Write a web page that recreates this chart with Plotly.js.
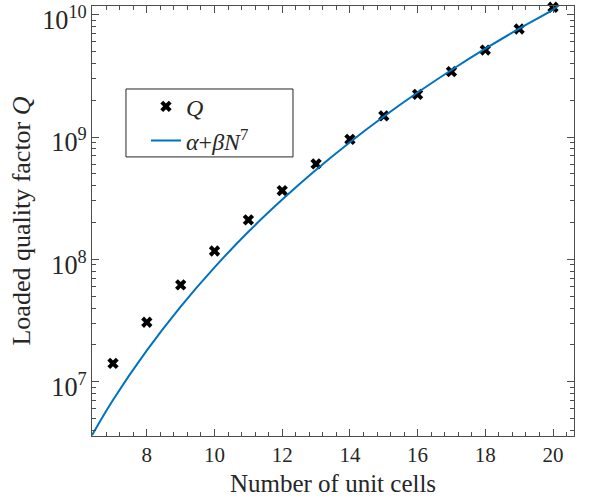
<!DOCTYPE html>
<html>
<head>
<meta charset="utf-8">
<script src="https://cdn.plot.ly/plotly-3.0.1.min.js"></script>
<style>html,body{margin:0;padding:0;background:#fff;}#chart{width:590px;height:504px;}</style>
</head>
<body>
<div id="chart"></div>
<script>
// Measured loaded quality factor vs number of unit cells
const cells = [7, 8, 9, 10, 11, 12, 13, 14, 15, 16, 17, 18, 19, 20];
const qValues = [1.41e7, 3.06e7, 6.18e7, 1.17e8, 2.10e8, 3.65e8, 6.03e8, 9.58e8, 1.49e9, 2.23e9, 3.42e9, 5.14e9, 7.64e9, 1.15e10];

// Fit curve alpha + beta*N^7
const fitN = [6.38, 7, 8, 9, 10, 11, 12, 13, 14, 15, 16, 17, 18, 19, 20, 20.2];
const fitQ = [3.65e6, 7.08e6, 1.80e7, 4.11e7, 8.6e7, 1.68e8, 3.08e8, 5.40e8, 9.07e8, 1.47e9, 2.31e9, 3.53e9, 5.27e9, 7.69e9, 1.10e10, 1.21e10];

const xTicks = [8, 10, 12, 14, 16, 18, 20];

const font = 'Liberation Serif';

const traces = [
  {
    x: cells, y: qValues, type: 'scatter', mode: 'markers', name: '<i>Q</i>',
    marker: {symbol: 'x', size: 10, color: '#000000', line: {width: 0}},
    cliponaxis: false
  },
  {
    x: fitN, y: fitQ, type: 'scatter', mode: 'lines', name: '<i>α</i>+<i>β</i><i>N</i><sup>7</sup>',
    line: {color: '#0072BD', width: 2, shape: 'spline'}
  }
];

const axisCommon = {
  showline: true, linecolor: '#4d4d4d', linewidth: 1, mirror: 'allticks',
  ticks: 'inside', ticklen: 7, tickcolor: '#4d4d4d', tickwidth: 1,
  showgrid: false, zeroline: false, ticklabeloverflow: 'allow',
  tickfont: {family: font, size: 21, color: '#262626'}
};

const layout = {
  width: 590, height: 504,
  margin: {l: 92, r: 16, t: 6, b: 68},
  paper_bgcolor: '#ffffff', plot_bgcolor: '#ffffff',
  font: {family: font, color: '#262626'},
  showlegend: true,
  xaxis: Object.assign({}, axisCommon, {
    range: [6.38, 20.62],
    tickmode: 'array', tickvals: xTicks, ticktext: xTicks.map(String),
    minor: {dtick: 0.4, tick0: 0, ticks: 'inside', ticklen: 4, tickcolor: '#4d4d4d'},
    title: {text: 'Number of unit cells', font: {family: font, size: 25, color: '#262626'}, standoff: 8}
  }),
  yaxis: Object.assign({}, axisCommon, {
    type: 'log', range: [6.556, 10.071], dtick: 1, exponentformat: 'power',
    ticklabelshift: 5,
    minor: {dtick: 'D1', ticks: 'inside', ticklen: 4, tickcolor: '#4d4d4d'},
    title: {text: 'Loaded quality factor <i>Q</i>', font: {family: font, size: 26, color: '#262626'}, standoff: 4}
  }),
  legend: {
    x: 0.112, y: 0.818, xanchor: 'left', yanchor: 'top',
    bgcolor: 'rgba(0,0,0,0)', borderwidth: 0,
    font: {family: font, size: 24, color: '#262626'},
    tracegroupgap: 0
  },
  shapes: [{
    type: 'rect', xref: 'paper', yref: 'paper',
    x0: 0.0705, x1: 0.417, y0: 0.649, y1: 0.807,
    line: {color: '#262626', width: 1}, fillcolor: '#ffffff', layer: 'below'
  }]
};

Plotly.newPlot('chart', traces, layout, {displayModeBar: false, staticPlot: true});
</script>
</body>
</html>
